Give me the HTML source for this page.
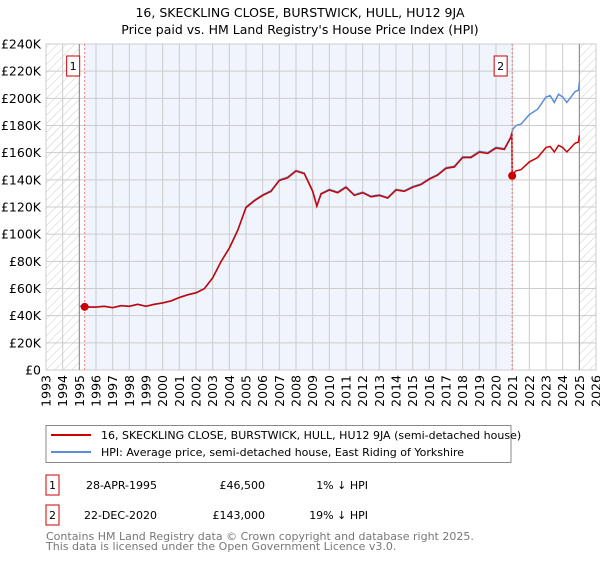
<!DOCTYPE html>
<html><head><meta charset="utf-8"><style>
body{margin:0;background:#fff;font-family:"Liberation Sans","DejaVu Sans",sans-serif;}
svg text{font-family:"DejaVu Sans","Liberation Sans",sans-serif;}
</style></head><body>
<svg id="c" width="600" height="560" xmlns="http://www.w3.org/2000/svg">
<defs><pattern id="hatch" width="6" height="6" patternUnits="userSpaceOnUse" patternTransform="rotate(45)"><line x1="0" y1="0" x2="0" y2="6" stroke="#ccc" stroke-width="1"/></pattern></defs>
<text x="300" y="17" text-anchor="middle" font-size="12.5" fill="#000">16, SKECKLING CLOSE, BURSTWICK, HULL, HU12 9JA</text>
<text x="300" y="34" text-anchor="middle" font-size="12.5" fill="#000">Price paid vs. HM Land Registry's House Price Index (HPI)</text>
<g id="plot"></g>
<g>
<rect x="46" y="425.5" width="465" height="37" fill="#fff" stroke="#888"/>
<line x1="51" y1="435" x2="91" y2="435" stroke="#cc0000" stroke-width="2"/>
<text x="101" y="439" font-size="11">16, SKECKLING CLOSE, BURSTWICK, HULL, HU12 9JA (semi-detached house)</text>
<line x1="51" y1="452" x2="91" y2="452" stroke="#5b8ed6" stroke-width="2"/>
<text x="101" y="456" font-size="11">HPI: Average price, semi-detached house, East Riding of Yorkshire</text>
</g>
<g font-size="11">
<rect x="46" y="475" width="13" height="20" fill="#fff" stroke="#cc0000"/>
<text x="52.5" y="489" text-anchor="middle">1</text>
<text x="157" y="489" text-anchor="end">28-APR-1995</text>
<text x="265" y="489" text-anchor="end">£46,500</text>
<text x="368" y="489" text-anchor="end">1% ↓ HPI</text>
<rect x="46" y="505" width="13" height="20" fill="#fff" stroke="#cc0000"/>
<text x="52.5" y="519" text-anchor="middle">2</text>
<text x="157" y="519" text-anchor="end">22-DEC-2020</text>
<text x="265" y="519" text-anchor="end">£143,000</text>
<text x="368" y="519" text-anchor="end">19% ↓ HPI</text>
</g>
<text x="46" y="540" font-size="11" fill="#777">Contains HM Land Registry data © Crown copyright and database right 2025.</text>
<text x="46" y="550" font-size="11" fill="#777">This data is licensed under the Open Government Licence v3.0.</text>
</svg>
<script>
const hpiYears=[1995.0,1995.5,1996,1996.5,1997,1997.5,1998,1998.5,1999,1999.5,2000,2000.5,2001,2001.5,2002,2002.5,2003,2003.5,2004,2004.5,2005,2005.5,2006,2006.5,2007,2007.5,2008,2008.5,2009,2009.25,2009.5,2010,2010.5,2011,2011.5,2012,2012.5,2013,2013.5,2014,2014.5,2015,2015.5,2016,2016.5,2017,2017.5,2018,2018.5,2019,2019.5,2020,2020.5,2020.9,2021.0,2021.2,2021.5,2022,2022.5,2023,2023.25,2023.5,2023.75,2024,2024.25,2024.75,2024.95,2025.0];
const hpiValues=[47,46.5,46.5,47,46,47.5,47,48.5,47,48.5,49.5,51,53.5,55.5,57,60,68,80,90,103,120,125,129,132,140,142,147,145,132,121,130,133,131,135,129,131,128,129,127,133,132,135,137,141,144,149,150,157,157,161,160,164,163,172,177,180,181,188,192,201,202,197,203,201,197,205,206,212];
const saleYears=[1995.32,2020.97];
const salePrices=[46.5,143];
const saleLabels=["1","2"];
const yTicks=[0,20,40,60,80,100,120,140,160,180,200,220,240];
const xTicks=[1993,1994,1995,1996,1997,1998,1999,2000,2001,2002,2003,2004,2005,2006,2007,2008,2009,2010,2011,2012,2013,2014,2015,2016,2017,2018,2019,2020,2021,2022,2023,2024,2025,2026];
const dataStart=1995.0, dataEnd=2025.0;

const L=46,R=596,T=44,B=370;
const X=y=>L+(y-1993)/33*(R-L);
const Y=v=>B-v/240*(B-T);
const NS="http://www.w3.org/2000/svg";
const g=document.getElementById('plot');
function mk(t,a,p){const e=document.createElementNS(NS,t);for(const k in a)e.setAttribute(k,a[k]);(p||g).appendChild(e);return e;}
function hpiAt(y){for(let i=0;i<hpiYears.length-1;i++){if(y<=hpiYears[i+1]){const f=(y-hpiYears[i])/(hpiYears[i+1]-hpiYears[i]);return hpiValues[i]+f*(hpiValues[i+1]-hpiValues[i]);}}return hpiValues[hpiValues.length-1];}

mk('rect',{x:L,y:T,width:R-L,height:B-T,fill:'#fff'});
const shade=mk('rect',{x:X(saleYears[0]),y:T,width:X(saleYears[1])-X(saleYears[0]),height:B-T,fill:'#f0f4fc'});


const h1=mk('rect',{x:L,y:T,width:X(dataStart)-L,height:B-T,fill:'url(#hatch)'});


const h2=mk('rect',{x:X(dataEnd),y:T,width:R-X(dataEnd),height:B-T,fill:'url(#hatch)'});



yTicks.forEach(v=>{
 mk('line',{x1:L,x2:R,y1:Y(v),y2:Y(v),stroke:'#ccc','stroke-width':1});
 const t=mk('text',{x:L-5,y:Y(v)+4.5,'text-anchor':'end','font-size':12.5,fill:'#000'});
 t.textContent='£'+(v===0?'0':v+'K');
 
 
});
xTicks.forEach(y=>{
 mk('line',{y1:T,y2:B,x1:X(y),x2:X(y),stroke:'#ccc','stroke-width':1});
 const t=mk('text',{x:0,y:0,'text-anchor':'end','font-size':12.5,fill:'#000',transform:`translate(${X(y)+4.5},${B+5}) rotate(-90)`});
 t.textContent=y;
 
 
});
mk('rect',{x:L,y:T,width:R-L,height:B-T,fill:'none',stroke:'#ccc'});
mk('line',{x1:X(dataStart),x2:X(dataStart),y1:T,y2:B,stroke:'#888'});
mk('line',{x1:X(dataEnd),x2:X(dataEnd),y1:T,y2:B,stroke:'#888'});

const hp=mk('polyline',{points:hpiYears.map((y,i)=>X(y)+','+Y(hpiValues[i])).join(' '),fill:'none',stroke:'#5b8ed6','stroke-width':1.5});


const r1=salePrices[0]/hpiAt(saleYears[0]), r2=salePrices[1]/hpiAt(saleYears[1]);
let pts=[[saleYears[0],salePrices[0]]];
hpiYears.forEach((y,i)=>{if(y>saleYears[0]&&y<saleYears[1])pts.push([y,hpiValues[i]*r1]);});
pts.push([saleYears[1]-0.02,hpiAt(saleYears[1])*r1]);
pts.push([saleYears[1],salePrices[1]]);
hpiYears.forEach((y,i)=>{if(y>saleYears[1])pts.push([y,hpiValues[i]*r2]);});
const pl=mk('polyline',{points:pts.map(p=>X(p[0])+','+Y(p[1])).join(' '),fill:'none',stroke:'#cc0000','stroke-width':1.5});



saleYears.forEach((y,i)=>{
 const vl=mk('line',{x1:X(y),x2:X(y),y1:T,y2:B,stroke:'#f08080','stroke-dasharray':'2,2'});
 
 
 const d=mk('circle',{cx:X(y),cy:Y(salePrices[i]),r:4,fill:'#cc0000'});
 
 
 const b=mk('rect',{x:X(y)-18,y:T+12,width:13,height:20,fill:'#fff',stroke:'#cc0000'});
 
 
 const t=mk('text',{x:X(y)-11.5,y:T+26,'text-anchor':'middle','font-size':11});
 t.textContent=saleLabels[i];
 
 
});
</script>
</body></html>
